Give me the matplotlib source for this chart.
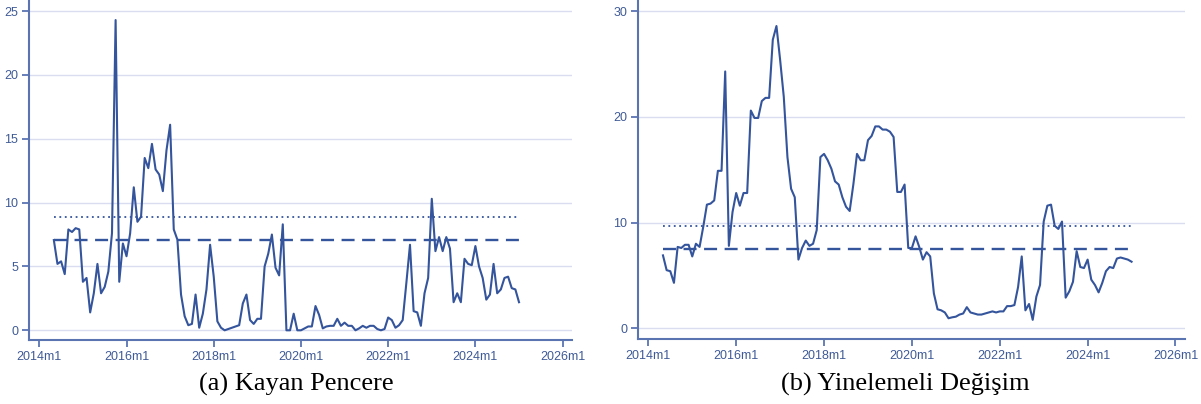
import matplotlib
matplotlib.use("Agg")
import matplotlib.pyplot as plt
import numpy as np

# Monthly series, 2014m5 .. 2025m1 (month index counted from 2014m1 = 0)
start_month = 4

rolling_window = [
    7.07, 5.2, 5.4, 4.4, 7.9, 7.7, 8.0, 7.9, 3.8, 4.1,
    1.4, 2.9, 5.2, 2.9, 3.4, 4.6, 7.6, 24.3, 3.8, 6.8,
    5.8, 7.6, 11.2, 8.5, 8.9, 13.5, 12.7, 14.6, 12.6, 12.2,
    10.9, 14.1, 16.1, 7.9, 7.1, 2.8, 1.1, 0.4, 0.5, 2.8,
    0.2, 1.3, 3.2, 6.7, 4.2, 0.7, 0.2, 0.0, 0.1, 0.2,
    0.3, 0.4, 2.1, 2.8, 0.8, 0.5, 0.9, 0.9, 5.0, 6.0,
    7.5, 4.9, 4.3, 8.3, 0.0, 0.0, 1.3, 0.0, 0.0, 0.15,
    0.3, 0.3, 1.9, 1.2, 0.15, 0.3, 0.35, 0.35, 0.9, 0.35,
    0.6, 0.35, 0.35, 0.0, 0.15, 0.35, 0.2, 0.35, 0.35, 0.1,
    0.0, 0.1, 1.0, 0.8, 0.2, 0.4, 0.8, 3.7, 6.7, 1.5,
    1.4, 0.35, 2.9, 4.1, 10.3, 6.2, 7.3, 6.2, 7.3, 6.4,
    2.2, 2.9, 2.2, 5.6, 5.2, 5.1, 6.6, 5.0, 4.1, 2.4,
    2.8, 5.2, 2.9, 3.2, 4.1, 4.2, 3.3, 3.2, 2.2,
]

recursive_change = [
    6.9, 5.5, 5.4, 4.3, 7.7, 7.6, 7.9, 7.9, 6.8, 8.0,
    7.7, 9.6, 11.7, 11.8, 12.1, 14.9, 14.9, 24.3, 7.8, 11.0,
    12.8, 11.6, 12.8, 12.8, 20.6, 19.9, 19.9, 21.5, 21.8, 21.8,
    27.3, 28.6, 25.4, 21.9, 16.2, 13.2, 12.4, 6.5, 7.6, 8.3,
    7.8, 8.0, 9.3, 16.2, 16.5, 15.9, 15.1, 13.9, 13.6, 12.4,
    11.5, 11.1, 13.6, 16.5, 15.9, 15.9, 17.8, 18.2, 19.1, 19.1,
    18.8, 18.8, 18.6, 18.1, 12.9, 12.9, 13.6, 7.6, 7.6, 8.7,
    7.7, 6.5, 7.2, 6.8, 3.3, 1.8, 1.7, 1.5, 0.95, 1.04,
    1.1, 1.3, 1.4, 2.0, 1.5, 1.4, 1.3, 1.3, 1.4, 1.5,
    1.6, 1.5, 1.6, 1.6, 2.1, 2.1, 2.2, 3.9, 6.8, 1.7,
    2.3, 0.8, 3.0, 4.1, 10.1, 11.6, 11.7, 9.7, 9.4, 10.1,
    2.9, 3.5, 4.4, 7.3, 5.8, 5.7, 6.5, 4.6, 4.1, 3.4,
    4.3, 5.4, 5.8, 5.7, 6.6, 6.7, 6.6, 6.5, 6.3,
]

# Reference levels drawn across each panel
dashed_levels = [7.1, 7.5]
dotted_levels = [8.9, 9.7]

tick_months = [0, 24, 48, 72, 96, 120, 144]
tick_labels = ["2014m1", "2016m1", "2018m1", "2020m1", "2022m1", "2024m1", "2026m1"]
captions = ["(a) Kayan Pencere", "(b) Yinelemeli Değişim"]

LINE = "#34549c"
SPINE = "#5a74b2"
GRID = "#d9ddef"
TEXT = "#3f5a96"

fig = plt.figure(figsize=(12.01, 4.04), dpi=100)

panels = [
    dict(rect=[29.3 / 1201, 64 / 404, (571.7 - 29.3) / 1201, 340 / 404],
         series=rolling_window, ylim=(-0.76, 25.87), yticks=[0, 5, 10, 15, 20, 25],
         xlim=(-2.75, 146.5), cap_x=296 / 1201),
    dict(rect=[638.3 / 1201, 64.7 / 404, (1185 - 638.3) / 1201, 339.3 / 404],
         series=recursive_change, ylim=(-1.04, 31.06), yticks=[0, 10, 20, 30],
         xlim=(-2.74, 146.6), cap_x=905 / 1201),
]

for i, p in enumerate(panels):
    ax = fig.add_axes(p["rect"])
    vals = np.asarray(p["series"])
    months = np.arange(start_month, start_month + len(vals))
    ax.plot(months, vals, color=LINE, lw=1.5, zorder=3)
    ax.hlines(dashed_levels[i], months[0], months[-1], colors=LINE,
              linestyles=(0, (5.5, 3.2)), lw=1.7, zorder=2)
    ax.hlines(dotted_levels[i], months[0], months[-1], colors=LINE,
              linestyles=(0, (1, 2.0)), lw=1.3, zorder=2)

    ax.set_xlim(*p["xlim"])
    ax.set_ylim(*p["ylim"])
    ax.set_yticks(p["yticks"])
    ax.set_yticklabels([str(t) for t in p["yticks"]])
    ax.set_xticks(tick_months)
    ax.set_xticklabels(tick_labels)
    for t in p["yticks"]:
        ax.axhline(t, color=GRID, lw=1.0, zorder=1)

    for side in ("top", "right"):
        ax.spines[side].set_visible(False)
    for side in ("left", "bottom"):
        ax.spines[side].set_color(SPINE)
        ax.spines[side].set_linewidth(1.5)
    ax.tick_params(axis="both", direction="out", length=5, width=1.3,
                   color=SPINE, labelcolor=TEXT, labelsize=9, pad=3)
    for lab in ax.get_xticklabels() + ax.get_yticklabels():
        lab.set_family("Liberation Sans")

    fig.text(p["cap_x"], (404 - 384) / 404, captions[i],
             ha="center", va="center", fontsize=19, family="Liberation Serif",
             color="black")

fig.savefig("out.png", dpi=100, facecolor="white")
